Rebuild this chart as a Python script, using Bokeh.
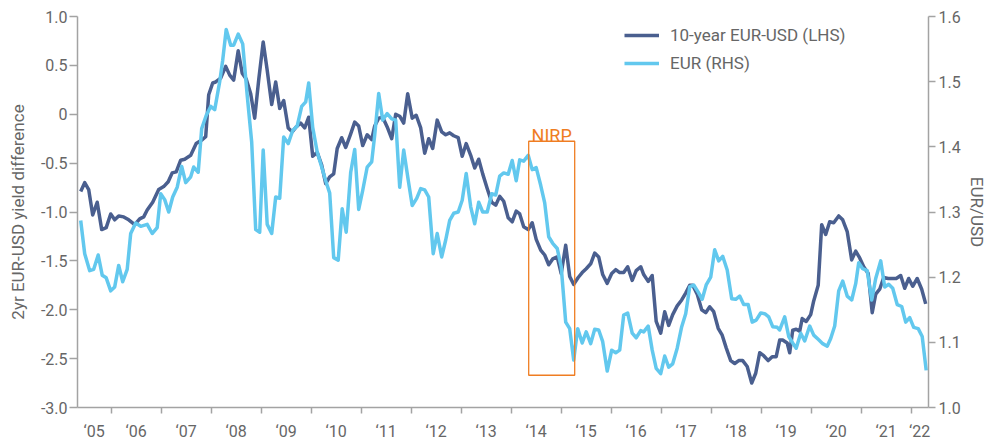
from bokeh.plotting import figure
from bokeh.models import Range1d, LinearAxis, FixedTicker, Legend, LegendItem, PrintfTickFormatter
from bokeh.embed import file_html
from bokeh.resources import INLINE
from bokeh.core.properties import value

# ---------------- data ----------------
# 10-year EUR-USD yield difference (LHS), decimal years
spread_t = [
    2005.39, 2005.47, 2005.55, 2005.63, 2005.72, 2005.81, 2005.90, 2005.99,
    2006.07, 2006.15, 2006.25, 2006.35, 2006.47, 2006.57, 2006.65, 2006.72, 2006.83, 2006.95,
    2007.05, 2007.14, 2007.22, 2007.30, 2007.39, 2007.47, 2007.59, 2007.70, 2007.82, 2007.89, 2007.95,
    2008.03, 2008.09, 2008.19, 2008.29, 2008.37, 2008.45, 2008.54, 2008.62, 2008.70, 2008.79, 2008.87, 2008.95,
    2009.04, 2009.12, 2009.21, 2009.29, 2009.37, 2009.45, 2009.54, 2009.62, 2009.70, 2009.79, 2009.87, 2009.95,
    2010.03, 2010.12, 2010.21, 2010.29, 2010.37, 2010.45, 2010.52, 2010.61, 2010.69, 2010.79, 2010.87, 2010.95,
    2011.03, 2011.12, 2011.21, 2011.27, 2011.35, 2011.43, 2011.52, 2011.61, 2011.69, 2011.77, 2011.85, 2011.93,
    2012.02, 2012.10, 2012.19, 2012.27, 2012.35, 2012.43, 2012.52, 2012.61, 2012.69, 2012.77, 2012.85, 2012.94,
    2013.02, 2013.10, 2013.19, 2013.27, 2013.35, 2013.43, 2013.52, 2013.61, 2013.69, 2013.77, 2013.85, 2013.94,
    2014.02, 2014.10, 2014.17, 2014.25, 2014.34, 2014.42, 2014.50, 2014.59, 2014.67, 2014.75, 2014.83, 2014.92,
    2015.00, 2015.09, 2015.17, 2015.25, 2015.34, 2015.42, 2015.50, 2015.59, 2015.67, 2015.75, 2015.83, 2015.92,
    2016.01, 2016.09, 2016.17, 2016.25, 2016.33, 2016.42, 2016.50, 2016.59, 2016.65, 2016.74, 2016.82, 2016.90, 2016.99,
    2017.07, 2017.15, 2017.23, 2017.32, 2017.41, 2017.49, 2017.57, 2017.63, 2017.72, 2017.81, 2017.89, 2017.97,
    2018.05, 2018.14, 2018.22, 2018.30, 2018.39, 2018.47, 2018.55, 2018.63, 2018.72, 2018.81, 2018.89, 2018.97,
    2019.05, 2019.14, 2019.22, 2019.30, 2019.37, 2019.43, 2019.52, 2019.57, 2019.63, 2019.70, 2019.77, 2019.82, 2019.90, 2019.99,
    2020.05, 2020.14, 2020.21, 2020.29, 2020.37, 2020.45, 2020.55, 2020.63, 2020.72, 2020.81, 2020.89, 2020.97,
    2021.05, 2021.14, 2021.22, 2021.29, 2021.37, 2021.45, 2021.54, 2021.62, 2021.70, 2021.79, 2021.87, 2021.95,
    2022.03, 2022.12, 2022.21, 2022.29,
]
spread_v = [
    -0.79, -0.70, -0.77, -1.03, -0.90, -1.18, -1.16, -1.02,
    -1.08, -1.04, -1.05, -1.08, -1.13, -1.07, -1.05, -0.98, -0.90, -0.77,
    -0.74, -0.69, -0.60, -0.59, -0.47, -0.46, -0.42, -0.30, -0.26, -0.23, 0.20,
    0.32, 0.33, 0.37, 0.49, 0.40, 0.35, 0.65, 0.42, 0.36, 0.21, -0.04, 0.35,
    0.74, 0.45, 0.10, 0.33, 0.06, 0.14, -0.14, -0.18, -0.13, -0.09, -0.14, -0.03,
    -0.43, -0.39, -0.52, -0.71, -0.64, -0.61, -0.35, -0.24, -0.34, -0.20, -0.08, -0.12,
    -0.32, -0.21, -0.26, -0.12, -0.04, -0.03, -0.13, -0.25, 0.00, -0.02, -0.09, 0.21,
    -0.04, -0.01, -0.14, -0.40, -0.25, -0.35, -0.06, -0.18, -0.21, -0.19, -0.22, -0.24,
    -0.43, -0.30, -0.42, -0.55, -0.46, -0.61, -0.76, -0.90, -0.93, -0.84, -0.89, -1.06,
    -1.10, -0.99, -1.02, -1.15, -1.18, -1.11, -1.28, -1.39, -1.44, -1.54, -1.48, -1.46,
    -1.63, -1.34, -1.66, -1.74, -1.67, -1.62, -1.58, -1.53, -1.42, -1.46, -1.64, -1.73,
    -1.63, -1.59, -1.62, -1.62, -1.56, -1.70, -1.60, -1.56, -1.64, -1.71, -1.65, -2.12, -2.24,
    -2.02, -2.16, -2.05, -1.96, -1.90, -1.83, -1.75, -1.75, -1.84, -2.00, -2.03, -1.97,
    -2.02, -2.19, -2.26, -2.39, -2.52, -2.55, -2.52, -2.52, -2.58, -2.75, -2.65, -2.44,
    -2.47, -2.52, -2.48, -2.48, -2.31, -2.31, -2.34, -2.44, -2.21, -2.20, -2.22, -2.09, -2.12, -2.05,
    -1.91, -1.75, -1.13, -1.23, -1.10, -1.11, -1.04, -1.08, -1.20, -1.49, -1.40, -1.47,
    -1.56, -1.63, -2.03, -1.84, -1.79, -1.67, -1.68, -1.68, -1.68, -1.65, -1.78, -1.68,
    -1.76, -1.68, -1.79, -1.94,
]

# EUR/USD (RHS), decimal years
eur_t = [
    2005.39, 2005.47, 2005.57, 2005.65, 2005.74, 2005.82, 2005.90, 2005.99,
    2006.07, 2006.15, 2006.23, 2006.32, 2006.39, 2006.49, 2006.59, 2006.72, 2006.82, 2006.92, 2006.99,
    2007.07, 2007.15, 2007.23, 2007.32, 2007.41, 2007.49, 2007.59, 2007.65, 2007.74, 2007.81, 2007.90, 2007.99,
    2008.07, 2008.17, 2008.23, 2008.30, 2008.39, 2008.45, 2008.54, 2008.63, 2008.72, 2008.81, 2008.89, 2008.97,
    2009.04, 2009.12, 2009.21, 2009.29, 2009.37, 2009.45, 2009.54, 2009.63, 2009.72, 2009.81, 2009.89, 2009.95,
    2010.03, 2010.12, 2010.21, 2010.29, 2010.37, 2010.45, 2010.54, 2010.62, 2010.70, 2010.79, 2010.87, 2010.95,
    2011.03, 2011.12, 2011.21, 2011.27, 2011.35, 2011.43, 2011.52, 2011.61, 2011.69, 2011.77, 2011.85, 2011.94,
    2012.02, 2012.11, 2012.19, 2012.27, 2012.35, 2012.44, 2012.52, 2012.61, 2012.69, 2012.77, 2012.85, 2012.94,
    2013.02, 2013.10, 2013.19, 2013.27, 2013.35, 2013.43, 2013.52, 2013.61, 2013.69, 2013.77, 2013.85, 2013.94,
    2014.02, 2014.10, 2014.17, 2014.25, 2014.34, 2014.42, 2014.50, 2014.59, 2014.67, 2014.75, 2014.83, 2014.92,
    2015.00, 2015.09, 2015.17, 2015.25, 2015.33, 2015.42, 2015.50, 2015.59, 2015.67, 2015.75, 2015.83, 2015.92,
    2016.01, 2016.09, 2016.17, 2016.25, 2016.33, 2016.42, 2016.50, 2016.59, 2016.65, 2016.74, 2016.82, 2016.90, 2016.99,
    2017.07, 2017.15, 2017.23, 2017.32, 2017.41, 2017.49, 2017.57, 2017.65, 2017.74, 2017.82, 2017.90, 2017.99,
    2018.07, 2018.15, 2018.23, 2018.32, 2018.41, 2018.49, 2018.57, 2018.65, 2018.74, 2018.82, 2018.90, 2018.99,
    2019.07, 2019.15, 2019.23, 2019.32, 2019.37, 2019.47, 2019.55, 2019.63, 2019.70, 2019.79, 2019.87, 2019.97,
    2020.05, 2020.15, 2020.23, 2020.32, 2020.39, 2020.47, 2020.55, 2020.63, 2020.72, 2020.81, 2020.89, 2020.95,
    2021.03, 2021.12, 2021.21, 2021.29, 2021.39, 2021.47, 2021.55, 2021.63, 2021.72, 2021.81, 2021.89, 2021.97,
    2022.05, 2022.14, 2022.22, 2022.30,
]
eur_v = [
    1.287, 1.236, 1.210, 1.212, 1.234, 1.203, 1.199, 1.179,
    1.185, 1.218, 1.193, 1.212, 1.267, 1.283, 1.278, 1.281, 1.267, 1.276, 1.328,
    1.319, 1.300, 1.323, 1.338, 1.370, 1.345, 1.354, 1.369, 1.361, 1.428, 1.448, 1.462,
    1.457, 1.500, 1.533, 1.580, 1.556, 1.556, 1.573, 1.558, 1.479, 1.407, 1.273, 1.269,
    1.395, 1.281, 1.267, 1.323, 1.321, 1.415, 1.405, 1.425, 1.432, 1.462, 1.469, 1.498,
    1.430, 1.392, 1.369, 1.348, 1.329, 1.230, 1.226, 1.305, 1.269, 1.361, 1.396, 1.304,
    1.333, 1.369, 1.377, 1.418, 1.482, 1.441, 1.451, 1.443, 1.441, 1.338, 1.395, 1.349,
    1.310, 1.321, 1.336, 1.334, 1.323, 1.236, 1.267, 1.231, 1.257, 1.287, 1.298, 1.300,
    1.318, 1.359, 1.308, 1.282, 1.315, 1.300, 1.300, 1.328, 1.326, 1.355, 1.360, 1.358,
    1.379, 1.348, 1.380, 1.378, 1.387, 1.365, 1.368, 1.341, 1.314, 1.262, 1.252, 1.244,
    1.216, 1.131, 1.121, 1.073, 1.121, 1.099, 1.116, 1.098, 1.120, 1.119, 1.101, 1.056,
    1.088, 1.084, 1.088, 1.142, 1.145, 1.114, 1.107, 1.118, 1.116, 1.125, 1.088, 1.060, 1.052,
    1.079, 1.062, 1.067, 1.091, 1.124, 1.144, 1.185, 1.188, 1.177, 1.166, 1.188, 1.200,
    1.242, 1.225, 1.232, 1.211, 1.167, 1.166, 1.171, 1.158, 1.158, 1.131, 1.134, 1.145,
    1.144, 1.139, 1.124, 1.123, 1.119, 1.139, 1.109, 1.099, 1.091, 1.114, 1.102, 1.125,
    1.111, 1.104, 1.098, 1.094, 1.106, 1.125, 1.179, 1.194, 1.171, 1.165, 1.190, 1.222,
    1.213, 1.210, 1.165, 1.198, 1.225, 1.185, 1.189, 1.183, 1.158, 1.155, 1.131, 1.138,
    1.123, 1.121, 1.109, 1.057,
]

# axis ticks / labels
left_ticks = [-3.0, -2.5, -2.0, -1.5, -1.0, -0.5, 0.0, 0.5, 1.0]
right_ticks = [1.0, 1.1, 1.2, 1.3, 1.4, 1.5, 1.6]
year_bounds = list(range(2006, 2023))
year_label_pos = [2005.66] + [y + 0.5 for y in range(2006, 2022)] + [2022.17]
year_labels = ["\u2018%02d" % (y % 100) for y in range(2005, 2023)]

# NIRP window
nirp_left, nirp_right = 2014.35, 2015.27
nirp_bottom, nirp_top = -2.67, -0.276

# ---------------- styling ----------------
FONT = "Roboto"
GREY_TXT = "#666666"
GREY_AX = "#a3a3a3"
DARK = "#4a5f8f"
LIGHT = "#62c8ee"
ORANGE = "#ef7d22"

p = figure(width=991, height=444,
           x_range=Range1d(2005.326, 2022.346), y_range=Range1d(-3.0, 1.0),
           output_backend="svg", toolbar_location=None,
           min_border_left=77, min_border_right=63, min_border_top=16, min_border_bottom=37)
p.extra_y_ranges = {"eur": Range1d(1.0, 1.6)}
p.grid.visible = False
p.outline_line_color = None
p.background_fill_color = "white"

r1 = p.line(spread_t, spread_v, line_color=DARK, line_width=3.5, line_join="round")
r2 = p.line(eur_t, eur_v, line_color=LIGHT, line_width=3.5, line_join="round", y_range_name="eur")

p.quad(left=[nirp_left], right=[nirp_right], top=[nirp_top], bottom=[nirp_bottom],
       fill_color=None, line_color=ORANGE, line_width=1.3)
p.text(x=[(nirp_left + nirp_right) / 2], y=[nirp_top], text=["NIRP"],
       text_align="center", text_baseline="alphabetic", y_offset=-6,
       text_color=ORANGE, text_font_size="18px", text_font=value(FONT))

def style_axis(ax):
    ax.axis_line_color = GREY_AX
    ax.axis_line_width = 1.5
    ax.major_tick_line_color = GREY_AX
    ax.major_tick_line_width = 1.5
    ax.minor_tick_line_color = None
    ax.major_tick_in = 0
    ax.major_label_text_color = GREY_TXT
    ax.major_label_text_font = FONT
    ax.major_label_text_font_size = "16px"
    ax.axis_label_text_color = GREY_TXT
    ax.axis_label_text_font = FONT
    ax.axis_label_text_font_style = "normal"
    ax.axis_label_text_font_size = "17px"

ly = p.yaxis[0]
style_axis(ly)
ly.ticker = FixedTicker(ticks=left_ticks)
ly.formatter = PrintfTickFormatter(format="%.1f")
ly.major_label_overrides = {0.0: "0"}
ly.major_tick_out = 8
ly.major_label_standoff = 2
ly.axis_label = "2yr EUR-USD yield difference"
ly.axis_label_standoff = 10

ry = LinearAxis(y_range_name="eur", axis_label="EUR/USD")
style_axis(ry)
ry.ticker = FixedTicker(ticks=right_ticks)
ry.formatter = PrintfTickFormatter(format="%.1f")
ry.major_tick_out = 7
ry.major_label_standoff = 3
ry.axis_label_standoff = 3
p.add_layout(ry, "right")

bx = p.xaxis[0]
style_axis(bx)
bx.ticker = FixedTicker(ticks=year_label_pos, minor_ticks=year_bounds)
bx.major_label_overrides = {pos: lab for pos, lab in zip(year_label_pos, year_labels)}
bx.major_tick_out = 0
bx.major_tick_line_color = None
bx.minor_tick_line_color = GREY_AX
bx.minor_tick_line_width = 1.5
bx.minor_tick_out = 6
bx.minor_tick_in = 0
bx.major_label_standoff = 8

legend = Legend(items=[LegendItem(label="10-year EUR-USD (LHS)", renderers=[r1]),
                       LegendItem(label="EUR (RHS)", renderers=[r2])],
                location=(547, 334))
legend.glyph_width = 35
legend.glyph_height = 20
legend.label_height = 20
legend.label_standoff = 11
legend.spacing = 8
legend.padding = 0
legend.margin = 0
legend.border_line_color = None
legend.background_fill_alpha = 0
legend.label_text_font = FONT
legend.label_text_font_size = "17px"
legend.label_text_color = GREY_TXT
p.add_layout(legend)

open("out.html", "w").write(file_html(p, INLINE))
